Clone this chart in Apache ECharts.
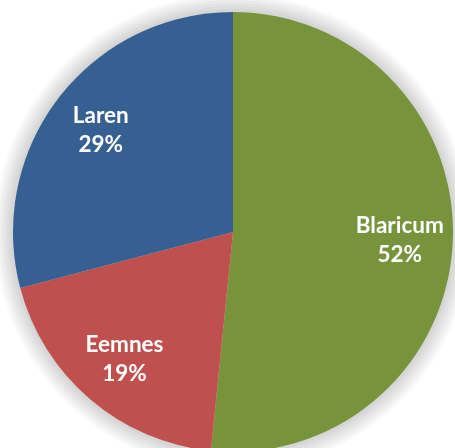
<!DOCTYPE html>
<html>
<head>
<meta charset="utf-8">
<script src="https://cdn.jsdelivr.net/npm/echarts@6/dist/echarts.min.js"></script>
<style>
html,body{margin:0;padding:0;background:#fff;}
#chart{width:455px;height:448px;}
</style>
</head>
<body>
<div id="chart"></div>
<script>
const categories = ['Blaricum', 'Eemnes', 'Laren'];
const values = [51.6, 19.3, 29.1];
const colors = ['#77933C', '#C0504D', '#376092'];

const chart = echarts.init(document.getElementById('chart'), null, {renderer: 'canvas'});
const data = categories.map((c, i) => ({name: c, value: values[i], itemStyle: {color: colors[i]}}));
const labelData = categories.map((c, i) => ({name: c, value: values[i]}));

const R = 220;
const haloRadii = [238, 235, 232, 229, 226, 223];

const haloSeries = haloRadii.map((r, i) => ({
  type: 'pie', silent: true, center: [233, 232], radius: [0, r],
  data: [{name: 'halo' + i, value: 1}],
  itemStyle: {color: 'rgba(0,0,0,0.028)', borderWidth: 0},
  label: {show: false}, labelLine: {show: false},
  emphasis: {disabled: true}, z: 1
}));

chart.setOption({
  backgroundColor: '#ffffff',
  animation: false,
  series: haloSeries.concat([
    {
      type: 'pie', silent: true, center: [233, 232], radius: [0, R],
      startAngle: 90, clockwise: true, avoidLabelOverlap: false,
      data: data,
      label: {show: false}, labelLine: {show: false},
      itemStyle: {borderWidth: 0},
      emphasis: {disabled: true}, z: 2
    },
    {
      type: 'pie', silent: true, center: [233, 232], radius: [0, 328],
      startAngle: 90, clockwise: true, avoidLabelOverlap: false,
      data: labelData,
      itemStyle: {color: 'rgba(0,0,0,0)', borderWidth: 0},
      label: {
        show: true, position: 'inside',
        formatter: p => p.name + '\n' + Math.round(p.percent) + '%',
        color: '#ffffff', fontFamily: 'Lato', fontWeight: 'bold', fontSize: 22.5,
        lineHeight: 29, align: 'center'
      },
      labelLine: {show: false},
      emphasis: {disabled: true}, z: 3
    }
  ])
});
</script>
</body>
</html>
